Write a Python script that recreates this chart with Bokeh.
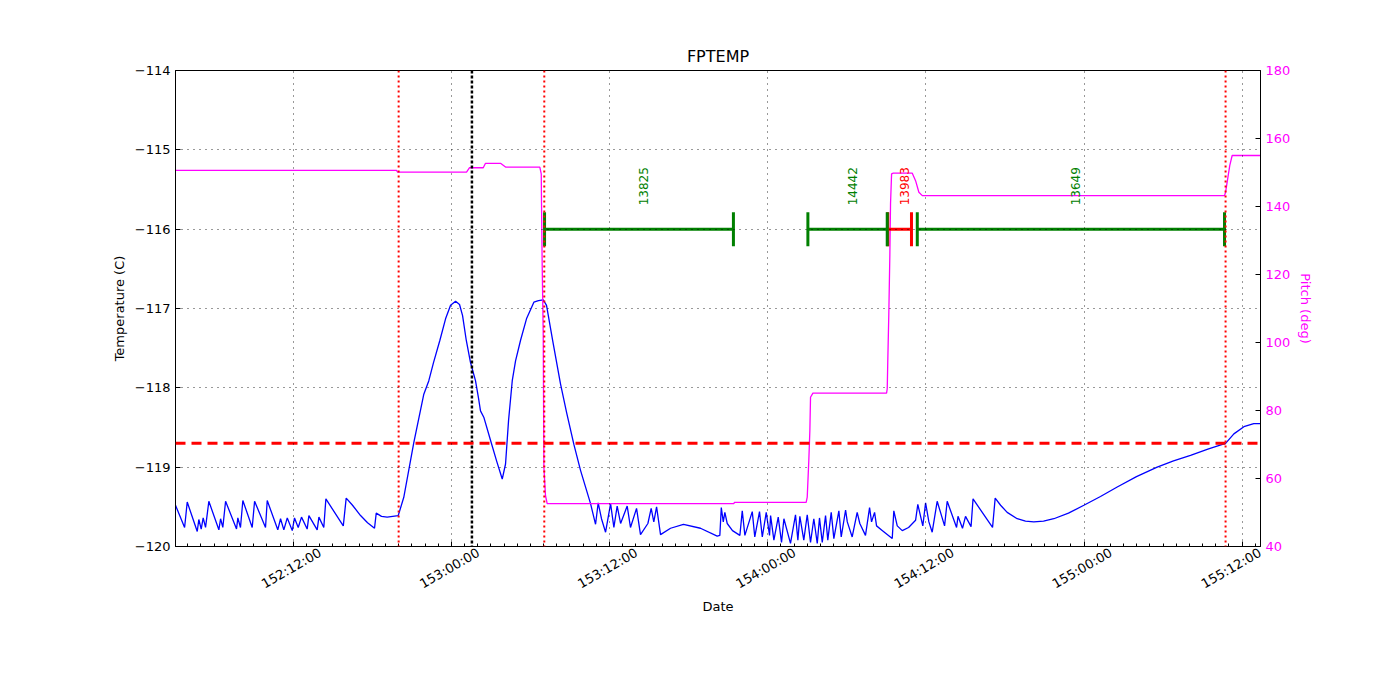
import math
from datetime import datetime
from bokeh.plotting import figure
from bokeh.models import (Range1d, LinearAxis, DatetimeAxis, FixedTicker, DatetimeTickFormatter, Span,
                          ColumnDataSource)
from bokeh.core.properties import value
from bokeh.embed import file_html
from bokeh.resources import INLINE

# ---------------- data (hours after day 152 00:00:00) ----------------
temp_hours = [3.07, 3.76, 3.96, 4.72, 4.84, 5.02, 5.17, 5.35, 5.60, 6.36, 6.49, 6.66, 6.87, 7.70, 7.80, 8.00,
              8.18, 8.89, 9.07, 9.90, 10.03, 10.83, 11.04, 11.29, 11.55, 11.93, 12.10, 12.38, 12.63, 13.06,
              13.19, 13.82, 13.95, 14.32, 14.48, 15.80, 16.02, 16.50, 17.11, 17.64, 18.17, 18.30, 18.70,
              19.13, 19.97, 20.39, 21.15, 21.91, 22.29, 22.65, 23.13, 23.56, 23.94, 24.32, 24.62, 24.85,
              25.13, 25.45, 25.83, 26.06, 26.21, 26.46, 26.97, 27.43, 27.86, 28.11, 28.34, 28.62, 28.87,
              29.25, 29.70, 30.26, 30.61, 30.97, 31.22, 31.68, 32.28, 32.74, 33.29, 33.80, 34.56, 34.94,
              35.14, 35.39, 35.70, 36.08, 36.33, 36.58, 36.84, 37.34, 37.59, 38.05, 38.35, 38.91, 39.16,
              39.36, 39.57, 39.87, 40.63, 41.61, 42.90, 44.17, 44.37, 44.48, 44.63, 44.75, 44.93, 45.33,
              45.89, 46.07, 46.27, 46.83, 47.02, 47.38, 47.59, 47.89, 48.14, 48.22, 48.47, 48.80, 49.05,
              49.23, 49.73, 50.11, 50.29, 50.44, 50.74, 51.00, 51.25, 51.50, 51.76, 51.93, 52.14, 52.39,
              52.56, 52.82, 53.02, 53.40, 53.58, 53.91, 54.04, 54.41, 54.79, 54.99, 55.42, 55.73, 55.88,
              56.11, 56.26, 56.71, 57.45, 57.57, 57.83, 58.21, 58.69, 59.22, 59.39, 59.77, 59.98, 60.23,
              60.48, 60.86, 61.42, 61.62, 62.33, 62.44, 62.78, 63.01, 63.43, 63.58, 65.06, 65.26, 65.67,
              66.17, 66.93, 67.56, 68.19, 68.93, 69.71, 70.82, 71.99, 73.25, 74.52, 75.98, 77.55, 78.79,
              80.08, 81.45, 82.74, 83.37, 84.13, 84.88, 85.39]
temp_c = [-119.48, -119.76, -119.44, -119.81, -119.66, -119.78, -119.64, -119.76, -119.43, -119.79, -119.65,
          -119.76, -119.43, -119.78, -119.64, -119.76, -119.42, -119.76, -119.43, -119.76, -119.42, -119.79,
          -119.65, -119.79, -119.64, -119.80, -119.64, -119.76, -119.63, -119.78, -119.61, -119.79, -119.63,
          -119.76, -119.40, -119.74, -119.39, -119.48, -119.61, -119.70, -119.77, -119.58, -119.62, -119.63,
          -119.61, -119.38, -118.69, -118.08, -117.91, -117.68, -117.40, -117.13, -116.96, -116.91, -116.95,
          -117.09, -117.40, -117.68, -117.91, -118.13, -118.29, -118.37, -118.66, -118.92, -119.15, -118.96,
          -118.41, -117.91, -117.66, -117.40, -117.13, -116.92, -116.90, -116.89, -116.96, -117.40, -117.95,
          -118.31, -118.71, -119.04, -119.46, -119.72, -119.45, -119.65, -119.82, -119.46, -119.76, -119.49,
          -119.71, -119.49, -119.76, -119.52, -119.85, -119.71, -119.52, -119.69, -119.50, -119.85, -119.77,
          -119.72, -119.77, -119.87, -119.86, -119.51, -119.69, -119.57, -119.71, -119.80, -119.86, -119.55,
          -119.86, -119.56, -119.88, -119.56, -119.88, -119.57, -119.86, -119.61, -119.92, -119.63, -119.95,
          -119.65, -119.96, -119.60, -119.92, -119.62, -119.92, -119.60, -119.95, -119.65, -119.96, -119.64,
          -119.95, -119.61, -119.92, -119.57, -119.90, -119.55, -119.88, -119.54, -119.69, -119.88, -119.57,
          -119.71, -119.86, -119.51, -119.69, -119.57, -119.74, -119.80, -119.90, -119.55, -119.74, -119.80,
          -119.76, -119.67, -119.47, -119.74, -119.45, -119.69, -119.82, -119.43, -119.74, -119.43, -119.76,
          -119.62, -119.77, -119.62, -119.75, -119.40, -119.76, -119.39, -119.48, -119.57, -119.65, -119.68,
          -119.69, -119.68, -119.65, -119.58, -119.48, -119.37, -119.25, -119.12, -119.00, -118.92, -118.85,
          -118.77, -118.70, -118.58, -118.49, -118.45, -118.45]

pitch_hours = [3.07, 19.84, 19.92, 25.15, 25.38, 26.42, 26.59, 27.73, 28.11, 30.71, 30.82, 30.84, 30.89,
               30.97, 31.02, 31.14, 31.27, 45.43, 45.48, 50.92, 51.00, 51.12, 51.20, 51.25, 51.43, 57.02,
               57.07, 57.11, 57.19, 57.27, 57.32, 57.40, 57.53, 58.97, 59.22, 59.47, 59.73, 82.66, 82.74,
               82.87, 83.06, 83.24, 85.39]
pitch_deg = [150.6, 150.6, 150.1, 150.1, 151.4, 151.4, 152.7, 152.7, 151.6, 151.6, 149.6, 140.8, 123.1,
             102.6, 63.3, 55.0, 52.6, 52.6, 53.0, 53.0, 54.5, 65.3, 74.1, 83.9, 85.1, 85.1,
             86.4, 94.2, 108.4, 126.1, 140.8, 149.6, 149.8, 149.8, 147.6, 144.2, 143.2, 143.2, 144.2,
             147.4, 152.1, 155.0, 155.0]

red_event_hours = [20.0, 31.05, 82.74]
black_event_hours = [25.56]
temp_limit_c = -118.7

obsids = ["13825", "14442", "13983", "13649"]
obsid_start_hours = [31.07, 51.05, 57.11, 59.35]
obsid_stop_hours = [45.40, 57.07, 58.91, 82.66]
obsid_colors = ["green", "green", "red", "green"]
obsid_level_c = -116.0
obsid_label_c = -115.70

major_tick_hours = [12, 24, 36, 48, 60, 72, 84]
major_tick_labels = ["152:12:00", "153:00:00", "153:12:00", "154:00:00",
                     "154:12:00", "155:00:00", "155:12:00"]
minor_tick_hours = list(range(3, 86))
x_start_hours, x_end_hours = 3.07, 85.39
temp_ticks = [-120, -119, -118, -117, -116, -115, -114]
pitch_ticks = [40, 60, 80, 100, 120, 140, 160, 180]

# ---------------- helpers ----------------
BASE = datetime(2013, 6, 1)  # day-of-year 152, 00:00:00
EPOCH = datetime(1970, 1, 1)


def ms(h):
    return int(round(((BASE - EPOCH).total_seconds() + h * 3600.0) * 1000.0))


FONT = "DejaVu Sans"

p = figure(width=1400, height=700, x_axis_type="datetime",
           x_range=Range1d(ms(x_start_hours), ms(x_end_hours)),
           y_range=Range1d(temp_ticks[0], temp_ticks[-1]),
           output_backend="svg", toolbar_location=None, title="FPTEMP",
           min_border_left=175, min_border_right=140, min_border_top=70, min_border_bottom=154)
p.background_fill_color = "white"
p.border_fill_color = "white"
p.outline_line_color = "black"
p.outline_line_width = 1

p.title.align = "center"
p.title.text_font = FONT
p.title.text_font_size = "16px"
p.title.text_font_style = "normal"
p.title.text_color = "black"

fmt = "%j:%H:%M"
formatter = DatetimeTickFormatter(microseconds=fmt, milliseconds=fmt, seconds=fmt, minsec=fmt,
                                  minutes=fmt, hourmin=fmt, hours=fmt, days=fmt, months=fmt, years=fmt)
xticker = FixedTicker(ticks=[ms(h) for h in major_tick_hours],
                      minor_ticks=[ms(h) for h in minor_tick_hours])


def style_axis(ax):
    ax.axis_line_color = "black"
    ax.major_tick_line_color = "black"
    ax.minor_tick_line_color = "black"
    ax.major_tick_in = 5
    ax.major_tick_out = 0
    ax.minor_tick_in = 3
    ax.minor_tick_out = 0
    ax.major_label_text_font = FONT
    ax.major_label_text_font_size = "13px"
    ax.major_label_text_color = "black"
    ax.axis_label_text_font = FONT
    ax.axis_label_text_font_size = "13px"
    ax.axis_label_text_font_style = "normal"
    ax.axis_label_text_color = "black"


# bottom axis: tick marks only (labels come from the second axis below)
xa = p.xaxis[0]
xa.ticker = xticker
xa.formatter = formatter
style_axis(xa)
xa.major_label_text_color = None
xa.major_label_standoff = 0

# second bottom axis: matplotlib-like rotated labels centred under the ticks.
# Bokeh right-aligns rotated labels at the tick, so this axis's ticks sit half a
# label-width to the right of the real ticks (the last one as far as the range allows).
LABEL_SHIFT_H = 2.05
label_ticks = [ms(min(h + LABEL_SHIFT_H, x_end_hours - 0.03)) for h in major_tick_hours]
xl = DatetimeAxis(ticker=FixedTicker(ticks=label_ticks, minor_ticks=[]), formatter=formatter)
style_axis(xl)
xl.axis_line_color = None
xl.major_tick_line_color = None
xl.minor_tick_line_color = None
xl.major_tick_in = 0
xl.minor_tick_in = 0
xl.major_label_orientation = math.pi / 6
xl.major_label_standoff = 5
xl.major_label_overrides = {t: lab for t, lab in zip(label_ticks, major_tick_labels)}
xl.axis_label = "Date"
xl.axis_label_standoff = -2
p.add_layout(xl, "below")

ya = p.yaxis[0]
ya.ticker = FixedTicker(ticks=temp_ticks)
ya.major_label_overrides = {v: "\u2212%d" % abs(v) for v in temp_ticks}
ya.axis_label = "Temperature (C)"
style_axis(ya)
ya.minor_tick_in = 0

p.extra_y_ranges = {"pitch": Range1d(pitch_ticks[0], pitch_ticks[-1])}
ra = LinearAxis(y_range_name="pitch", ticker=FixedTicker(ticks=pitch_ticks), axis_label="Pitch (deg)")
style_axis(ra)
ra.minor_tick_in = 0
ra.major_label_text_color = "magenta"
ra.axis_label_text_color = "magenta"
p.add_layout(ra, "right")

for g in (p.xgrid[0], p.ygrid[0]):
    g.grid_line_color = "black"
    g.grid_line_dash = "1 5"
    g.grid_line_width = 1
    g.grid_line_alpha = 0.8
    g.level = "overlay"
p.xgrid[0].ticker = xticker

# ---------------- glyphs ----------------
p.line([ms(h) for h in temp_hours], temp_c, line_color="blue", line_width=1.3)
p.line([ms(h) for h in pitch_hours], pitch_deg, line_color="magenta", line_width=1.3,
       y_range_name="pitch")

for h in red_event_hours:
    p.add_layout(Span(location=ms(h), dimension="height", line_color="red",
                      line_width=2, line_dash="2 3"))
for h in black_event_hours:
    p.add_layout(Span(location=ms(h), dimension="height", line_color="black",
                      line_width=2.5, line_dash="3 2"))
p.add_layout(Span(location=temp_limit_c, dimension="width", line_color="red",
                  line_width=3, line_dash="10 6"))

obs = ColumnDataSource(dict(
    x0=[ms(h) for h in obsid_start_hours],
    x1=[ms(h) for h in obsid_stop_hours],
    y=[obsid_level_c] * len(obsids),
    ly=[obsid_label_c] * len(obsids),
    xm=[ms((a + b) / 2) for a, b in zip(obsid_start_hours, obsid_stop_hours)],
    color=obsid_colors,
    label=obsids,
))
p.segment(x0="x0", y0="y", x1="x1", y1="y", line_color="color", line_width=3, source=obs)
p.scatter(x="x0", y="y", marker="dash", angle=math.pi / 2, size=34, line_color="color",
          line_width=3, source=obs)
p.scatter(x="x1", y="y", marker="dash", angle=math.pi / 2, size=34, line_color="color",
          line_width=3, source=obs)
p.text(x="xm", y="ly", text="label", angle=math.pi / 2, text_color="color",
       text_font=value(FONT), text_font_size="12px", text_align="left",
       text_baseline="top", source=obs)

open("out.html", "w").write(file_html(p, INLINE))
